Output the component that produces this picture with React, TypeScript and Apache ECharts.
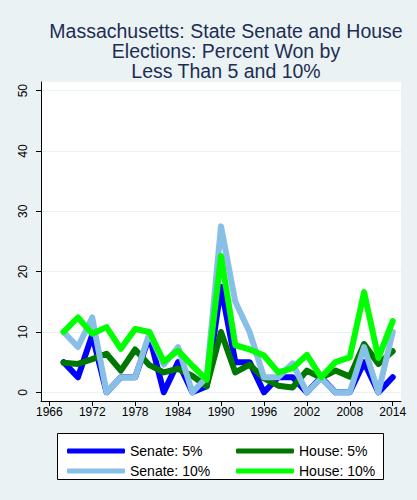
import React, { useEffect, useRef } from 'react';
import * as echarts from 'echarts';

const years = [1968, 1970, 1972, 1974, 1976, 1978, 1980, 1982, 1984, 1986, 1988, 1990,
  1992, 1994, 1996, 1998, 2000, 2002, 2004, 2006, 2008, 2010, 2012, 2014];
const senate5 = [5, 2.5, 9.5, 0, 2.5, 2.5, 9.3, 0, 5, 0, 1, 17.5, 5, 5, 0, 2.5, 2.5, 0, 2.5, 0, 0, 5, 0, 2.5];
const house5 = [4.9, 4.7, 5.5, 6.4, 3.6, 7.1, 4.5, 3.3, 3.9, 2.7, 1.0, 10, 3.3, 4.6, 2.3, 1.1, 0.8, 3.6, 2.4, 3.6, 2.6, 8, 4.7, 6.8];
const senate10 = [10, 7.5, 12.4, 0, 2.5, 2.5, 9.8, 4.6, 7.5, 0, 2.5, 27.5, 15, 10, 2.5, 2.5, 4.8, 0, 2.3, 0, 0, 7.5, 0, 10];
const house10 = [10, 12.4, 9.7, 10.8, 7.2, 10.5, 10, 5.1, 6.9, 4.4, 2.1, 22.6, 7.8, 7.1, 6.1, 3.3, 4, 6.2, 2.5, 5, 5.8, 16.6, 5.7, 11.8];

const xTicks = [1966, 1972, 1978, 1984, 1990, 1996, 2002, 2008, 2014];
const yTicks = [0, 10, 20, 30, 40, 50];

const seriesNames = ['Senate: 5%', 'House: 5%', 'Senate: 10%', 'House: 10%'];
const seriesColors = ['#0000FF', '#007800', '#87BFE7', '#00FF00'];

const FONT = "'Liberation Sans', Arial, sans-serif";

const App: React.FC = () => {
  const chartRef = useRef<HTMLDivElement>(null);

  useEffect(() => {
    if (!chartRef.current) return;
    const chart = echarts.init(chartRef.current, undefined, { renderer: 'svg' });
    const allData = [senate5, house5, senate10, house10];

    const option = {
      animation: false,
      backgroundColor: '#EAF2F3',
      textStyle: { fontFamily: FONT },
      title: {
        text: 'Massachusetts: State Senate and House\nElections: Percent Won by\nLess Than 5 and 10%',
        left: 221,
        top: 16,
        textAlign: 'center',
        textStyle: {
          fontFamily: FONT,
          fontWeight: 'normal',
          fontSize: 19.5,
          lineHeight: 20,
          color: '#1E2D53',
        },
      },
      grid: {
        left: 41,
        right: 16,
        top: 82,
        bottom: 99,
        show: true,
        backgroundColor: '#FFFFFF',
        borderWidth: 0,
        containLabel: false,
      },
      xAxis: {
        type: 'value',
        min: 1964.84,
        max: 2015.16,
        axisLine: { show: true, onZero: false, lineStyle: { color: '#000', width: 1 } },
        axisTick: { show: true, length: 5, customValues: xTicks, lineStyle: { color: '#000' } },
        axisLabel: {
          customValues: xTicks,
          formatter: (v: number) => String(v),
          color: '#000',
          fontSize: 12,
          fontFamily: FONT,
          margin: 5,
        },
        splitLine: { show: false },
      },
      yAxis: {
        type: 'value',
        min: -1.44,
        max: 51.43,
        axisLine: { show: true, onZero: false, lineStyle: { color: '#000', width: 1 } },
        axisTick: { show: true, length: 5, customValues: yTicks, lineStyle: { color: '#000' } },
        axisLabel: {
          customValues: yTicks,
          rotate: 90,
          color: '#000',
          fontSize: 12,
          fontFamily: FONT,
          margin: 12,
        },
        splitLine: { show: true, lineStyle: { color: '#EAF2F3', width: 1 } },
      },
      legend: [
        {
          data: [seriesNames[0], seriesNames[2]],
          orient: 'vertical',
          left: 62,
          top: 439,
          itemWidth: 58,
          itemHeight: 5,
          itemGap: 6,
          icon: 'roundRect',
          textStyle: { fontFamily: FONT, fontSize: 14, color: '#000' },
        },
        {
          data: [seriesNames[1], seriesNames[3]],
          orient: 'vertical',
          left: 231,
          top: 439,
          itemWidth: 58,
          itemHeight: 5,
          itemGap: 6,
          icon: 'roundRect',
          textStyle: { fontFamily: FONT, fontSize: 14, color: '#000' },
        },
      ],
      graphic: [
        {
          type: 'rect',
          left: 57,
          top: 433,
          z: 0,
          shape: { width: 326, height: 46 },
          style: { fill: '#FFFFFF', stroke: '#000', lineWidth: 1 },
        },
      ],
      series: seriesNames.map((name, i) => ({
        name,
        type: 'line',
        data: years.map((y, j) => [y, allData[i][j]]),
        showSymbol: false,
        symbol: 'none',
        color: seriesColors[i],
        lineStyle: { width: 6, color: seriesColors[i], cap: 'round', join: 'round' },
        z: 2 + i,
      })),
    };

    chart.setOption(option);
    return () => {
      chart.dispose();
    };
  }, []);

  return <div ref={chartRef} style={{ position: 'absolute', left: 0, top: 0, width: 417, height: 500 }} />;
};

export default App;
